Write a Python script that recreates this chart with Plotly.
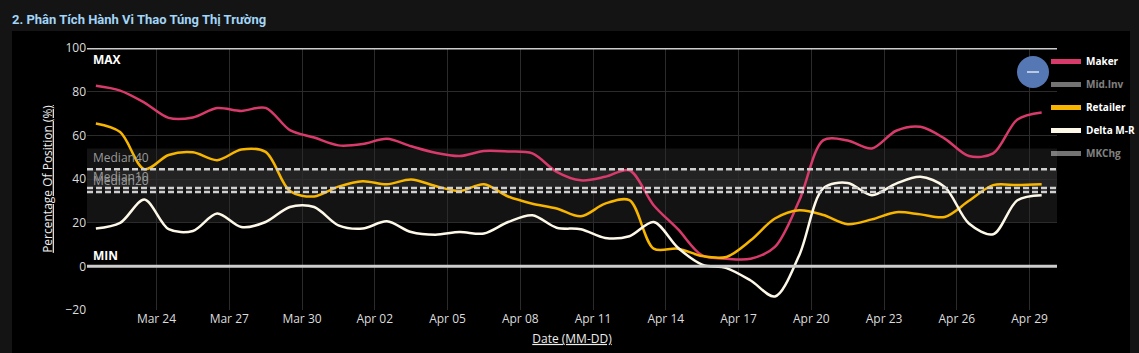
import pandas as pd
import plotly.graph_objects as go

# ---------------- data ----------------
dates = pd.date_range("2025-03-21 12:00", periods=40, freq="D")

maker = [82.7, 80.5, 75.0, 68.0, 68.2, 72.5, 71.2, 72.6, 62.4, 59.0,
         55.4, 56.0, 58.4, 55.0, 52.0, 50.5, 52.8, 52.6, 51.7, 43.3,
         39.4, 41.0, 44.0, 28.0, 17.0, 5.0, 3.5, 3.5, 8.9, 30.0,
         57.8, 57.6, 54.0, 62.1, 63.9, 58.5, 50.5, 51.7, 67.3, 70.5]

retailer = [65.4, 61.5, 44.5, 51.0, 52.2, 48.6, 53.5, 52.4, 34.5, 32.0,
            36.5, 39.0, 37.6, 39.8, 36.8, 34.5, 37.6, 32.0, 28.7, 26.5,
            22.9, 28.7, 30.3, 8.1, 8.1, 4.7, 4.3, 11.9, 21.9, 25.7,
            23.5, 19.3, 21.5, 24.8, 23.8, 22.6, 30.0, 37.2, 37.2, 37.6]

delta_mr = [17.3, 19.9, 30.6, 17.0, 16.2, 24.2, 18.0, 20.3, 27.2, 27.2,
            18.8, 17.3, 20.6, 15.7, 14.5, 15.7, 15.0, 20.3, 23.4, 17.7,
            17.0, 13.0, 13.8, 20.3, 8.5, 0.8, -0.8, -6.5, -13.8, 5.0,
            35.8, 38.2, 32.6, 37.9, 41.0, 36.4, 19.6, 14.7, 30.3, 32.6]

# hidden (legend-only) series: values not visible in the picture
mid_inv = [None] * len(dates)
mkchg = [None] * len(dates)

band_low, band_high = 20, 54
median_levels = {"Median40": 44.5, "Median10": 35.9, "Median20": 34.1}
max_level, min_level = 100, 0

y_ticks = [-20, 0, 20, 40, 60, 80, 100]

# ---------------- figure ----------------
fig = go.Figure()

def add_line(name, y, color, visible=True):
    fig.add_trace(go.Scatter(
        x=dates, y=y, name=name, mode="lines",
        line=dict(color=color, width=2.5, shape="spline", smoothing=0.9),
        visible=visible, legendgroup=name,
    ))

add_line("Maker", maker, "#d83a6b")
add_line("Mid.Inv", mid_inv, "#e6e6e6", visible="legendonly")
add_line("Retailer", retailer, "#f7b500")
add_line("Delta M-R", delta_mr, "#fdf8e8")
add_line("MKChg", mkchg, "#e6e6e6", visible="legendonly")

# geometry helpers (pixel -> paper)
L, R, T, B = 87, 82, 48, 43
W, H = 1139, 353
pw, ph = W - L - R, H - T - B
def px(xp):
    return (xp - L) / pw
def py(yp):
    return (H - B - yp) / ph

shapes = []
# black panel behind the plot
shapes.append(dict(type="rect", xref="paper", yref="paper",
                   x0=px(12), x1=px(1130), y0=py(380), y1=py(31),
                   fillcolor="#000000", line_width=0, layer="below"))
# quantile bands
shapes.append(dict(type="rect", xref="paper", yref="y", x0=0, x1=1,
                   y0=band_low, y1=band_high,
                   fillcolor="rgba(255,255,255,0.075)", line_width=0, layer="below"))
shapes.append(dict(type="rect", xref="paper", yref="y", x0=0, x1=1,
                   y0=median_levels["Median10"], y1=median_levels["Median40"],
                   fillcolor="rgba(255,255,255,0.07)", line_width=0, layer="below"))
# median dashed lines
for name, lvl in median_levels.items():
    shapes.append(dict(type="line", xref="paper", yref="y", x0=0, x1=1,
                       y0=lvl, y1=lvl,
                       line=dict(color="#cfcfcf", width=2.5, dash="6px,3px")))
# max / min lines
for lvl in (max_level, min_level):
    shapes.append(dict(type="line", xref="paper", yref="y", x0=0, x1=1,
                       y0=lvl, y1=lvl, line=dict(color="#cccccc", width=3)))
# blue circle button
shapes.append(dict(type="circle", xref="paper", yref="paper",
                   x0=px(1017), x1=px(1049), y0=py(88), y1=py(56),
                   fillcolor="#5577b4", line_width=0))
# the white dash inside the button
shapes.append(dict(type="line", xref="paper", yref="paper",
                   x0=px(1027), x1=px(1039), y0=py(72), y1=py(72),
                   line=dict(color="#ffffff", width=1.2)))

annotations = []
annotations.append(dict(text="<b>MAX</b>", xref="paper", yref="y", x=px(91), y=max_level,
                        xanchor="left", yanchor="top", yshift=-1, showarrow=False,
                        font=dict(color="#ffffff", size=12)))
annotations.append(dict(text="<b>MIN</b>", xref="paper", yref="y", x=px(91), y=min_level,
                        xanchor="left", yanchor="bottom", yshift=0, showarrow=False,
                        font=dict(color="#ffffff", size=12)))
for name in ["Median20", "Median10", "Median40"]:
    annotations.append(dict(text=name, xref="paper", yref="y", x=px(91),
                            y=median_levels[name], xanchor="left", yanchor="bottom",
                            yshift=1, showarrow=False,
                            font=dict(color="#9a9a9a", size=12)))

fig.update_layout(
    width=W, height=H,
    margin=dict(l=L, r=R, t=T, b=B, autoexpand=False),
    paper_bgcolor="#141414",
    plot_bgcolor="#000000",
    font=dict(family="Open Sans, sans-serif", color="#dddddd", size=12),
    title=dict(text="<b>2. Phân Tích Hành Vi Thao Túng Thị Trường</b>",
               x=12 / W, xref="container", xanchor="left",
               y=1 - 19 / H, yref="container", yanchor="middle",
               font=dict(family="Roboto, sans-serif", size=13, color="#a3d5f7")),
    showlegend=True,
    legend=dict(x=px(1046), xanchor="left", y=py(47), yanchor="top",
                bgcolor="rgba(0,0,0,0)", traceorder="grouped", tracegroupgap=4,
                font=dict(size=10, color="#ffffff", family="Open Sans, sans-serif",
                          weight="bold"),
                itemsizing="constant"),
    shapes=shapes,
    annotations=annotations,
    xaxis=dict(
        type="date",
        range=["2025-03-21 03:13", "2025-04-30 03:10"],
        tick0="2025-03-24", dtick=3 * 86400000, tickformat="%b %d",
        showgrid=True, gridcolor="#2b2b2b", gridwidth=1,
        zeroline=False, showline=False,
        tickfont=dict(size=12, color="#dddddd"),
        title=dict(text="<u>Date (MM-DD)</u>", standoff=8,
                   font=dict(size=12, color="#eeeeee")),
    ),
    yaxis=dict(
        range=[-20, 100], tickvals=y_ticks,
        showgrid=True, gridcolor="#2b2b2b", gridwidth=1,
        zeroline=False, showline=False,
        tickfont=dict(size=12, color="#dddddd"),
        title=dict(text="<u>Percentage Of Position (%)</u>", standoff=10,
                   font=dict(size=12, color="#eeeeee")),
    ),
)

fig.write_html("out.html")
